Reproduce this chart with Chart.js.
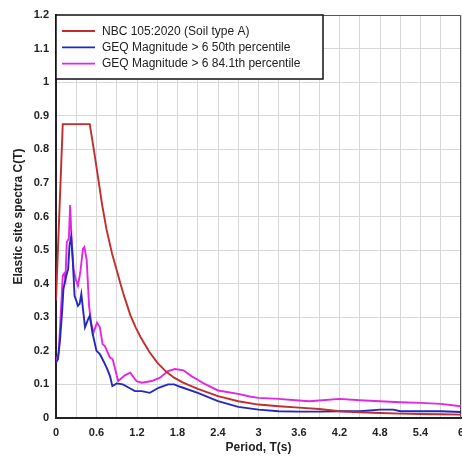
<!DOCTYPE html>
<html>
<head>
<meta charset="utf-8">
<script src="https://cdn.jsdelivr.net/npm/chart.js@4/dist/chart.umd.min.js"></script>
<style>
  body { margin: 0; background: #fff; }
</style>
</head>
<body>
<canvas id="chart" width="462" height="457"></canvas>
<script>
// NBC 105:2020 design spectrum (soil type A)
var nbcPeriod = [0, 0.1, 0.5, 0.56, 0.62, 0.683, 0.75, 0.83, 0.9, 0.955, 1.006, 1.104, 1.18, 1.25, 1.379, 1.5,
    1.626, 1.75, 1.875, 2.1, 2.4, 2.7, 3.0, 3.3, 3.6, 3.9, 4.2, 4.5, 4.8, 5.1, 5.4, 5.7, 6];
var nbcValue = [0.35, 0.875, 0.875, 0.8, 0.72, 0.635, 0.56, 0.49, 0.44, 0.4, 0.365, 0.305, 0.27, 0.242, 0.198, 0.165,
    0.139, 0.12, 0.106, 0.087, 0.065, 0.05, 0.04, 0.035, 0.031, 0.027, 0.02, 0.017, 0.015, 0.013, 0.012, 0.011, 0.01];

// GEQ magnitude > 6, 50th percentile
var p50Period = [0, 0.03, 0.06, 0.09, 0.11, 0.14, 0.18, 0.2, 0.225, 0.25, 0.275, 0.3, 0.325, 0.35, 0.375, 0.4,
    0.43, 0.475, 0.5, 0.54, 0.6, 0.65, 0.69, 0.75, 0.8, 0.835, 0.9, 0.99, 1.08, 1.17, 1.27, 1.39, 1.52, 1.66,
    1.75, 1.84, 2.1, 2.4, 2.7, 3.0, 3.3, 3.6, 3.9, 4.2, 4.5, 4.8, 5.0, 5.1, 5.4, 5.7, 6];
var p50Value = [0.165, 0.175, 0.234, 0.314, 0.384, 0.414, 0.444, 0.514, 0.539, 0.464, 0.364, 0.35, 0.334, 0.34,
    0.369, 0.324, 0.27, 0.294, 0.304, 0.254, 0.2, 0.19, 0.175, 0.15, 0.125, 0.095, 0.103, 0.1, 0.09, 0.08, 0.08,
    0.075, 0.09, 0.1, 0.1, 0.093, 0.075, 0.05, 0.033, 0.025, 0.02, 0.019, 0.019, 0.02, 0.02, 0.025, 0.025, 0.02,
    0.02, 0.02, 0.018];

// GEQ magnitude > 6, 84.1th percentile
var p84Period = [0, 0.04, 0.077, 0.1, 0.12, 0.14, 0.16, 0.19, 0.21, 0.23, 0.26, 0.29, 0.325, 0.36, 0.4, 0.42,
    0.455, 0.49, 0.52, 0.555, 0.607, 0.65, 0.69, 0.724, 0.8, 0.84, 0.92, 1.02, 1.1, 1.19, 1.27, 1.42, 1.54, 1.66,
    1.76, 1.89, 2.01, 2.1, 2.18, 2.4, 2.7, 2.87, 3.0, 3.3, 3.6, 3.75, 3.9, 4.2, 4.5, 4.8, 5.1, 5.4, 5.7, 6];
var p84Value = [0.165, 0.195, 0.334, 0.424, 0.43, 0.414, 0.524, 0.534, 0.634, 0.534, 0.444, 0.414, 0.394, 0.434,
    0.504, 0.509, 0.47, 0.334, 0.284, 0.254, 0.284, 0.27, 0.22, 0.214, 0.18, 0.175, 0.11, 0.127, 0.135, 0.11,
    0.105, 0.11, 0.12, 0.14, 0.146, 0.142, 0.124, 0.114, 0.104, 0.082, 0.072, 0.064, 0.06, 0.057, 0.052, 0.05,
    0.052, 0.057, 0.053, 0.05, 0.047, 0.045, 0.042, 0.035];

var seriesLabels = ['NBC 105:2020 (Soil type A)', 'GEQ Magnitude > 6 50th percentile', 'GEQ Magnitude > 6 84.1th percentile'];
var seriesColors = ['rgb(195, 45, 45)', 'rgb(35, 40, 190)', 'rgb(225, 40, 225)'];

var FONT = '"Liberation Sans", Arial, sans-serif';

function toPoints(xs, ys) {
    var pts = [];
    for (var k = 0; k < xs.length; k++) pts.push({x: xs[k], y: ys[k]});
    return pts;
}

var seriesData = [toPoints(nbcPeriod, nbcValue), toPoints(p50Period, p50Value), toPoints(p84Period, p84Value)];
var datasets = [];
for (var k = 0; k < seriesData.length; k++) {
    datasets.push({
        label: seriesLabels[k],
        data: seriesData[k],
        borderColor: seriesColors[k],
        backgroundColor: seriesColors[k],
        borderWidth: 1.9,
        pointRadius: 0,
        tension: 0,
        fill: false
    });
}

// legend box drawn inside the plot, top-left
var boxLegend = {
    id: 'boxLegend',
    afterDraw: function(chart) {
        var ctx = chart.ctx, a = chart.chartArea;
        var x = a.left, y = a.top, w = 267, h = 64;
        ctx.save();
        ctx.fillStyle = '#fff';
        ctx.fillRect(x, y, w, h);
        ctx.strokeStyle = '#111';
        ctx.lineWidth = 1.5;
        ctx.strokeRect(x, y, w, h);
        ctx.font = '12px ' + FONT;
        ctx.textBaseline = 'middle';
        chart.data.datasets.forEach(function(ds, n) {
            var cy = y + 16 + n * 16.3;
            ctx.strokeStyle = ds.borderColor;
            ctx.lineWidth = 1.8;
            ctx.beginPath();
            ctx.moveTo(x + 6, cy);
            ctx.lineTo(x + 39, cy);
            ctx.stroke();
            ctx.fillStyle = '#222';
            ctx.fillText(ds.label, x + 46, cy + 0.5);
        });
        ctx.restore();
    }
};

// dark frame on the top and right edges of the plot
var frame = {
    id: 'frame',
    beforeDatasetsDraw: function(chart) {
        var ctx = chart.ctx, a = chart.chartArea;
        ctx.save();
        ctx.strokeStyle = '#555';
        ctx.lineWidth = 1;
        ctx.beginPath();
        ctx.moveTo(a.left, a.top + 0.5);
        ctx.lineTo(a.right - 0.5, a.top + 0.5);
        ctx.lineTo(a.right - 0.5, a.bottom);
        ctx.stroke();
        ctx.restore();
    }
};

new Chart(document.getElementById('chart'), {
    type: 'line',
    data: { datasets: datasets },
    plugins: [frame, boxLegend],
    options: {
        responsive: false,
        animation: false,
        layout: { padding: { top: 15, right: 1, left: 0, bottom: 0 } },
        plugins: {
            legend: { display: false },
            tooltip: { enabled: false }
        },
        scales: {
            x: {
                type: 'linear',
                min: 0,
                max: 6,
                grid: { color: '#d8d8d8', drawTicks: false },
                border: { color: '#222', width: 2 },
                ticks: {
                    stepSize: 0.3,
                    autoSkip: false,
                    maxRotation: 0,
                    padding: 8,
                    color: '#222',
                    font: { family: FONT, size: 11, weight: 'bold' },
                    callback: function(v, idx) {
                        return idx % 2 === 0 ? String(Number(v.toFixed(1))) : '';
                    }
                },
                title: {
                    display: true,
                    text: 'Period, T(s)',
                    color: '#222',
                    font: { family: FONT, size: 12, weight: 'bold' },
                    padding: { top: 0, bottom: 2 }
                },
                afterFit: function(scale) {
                    scale.height = 39;
                    scale.paddingLeft = 0;
                    scale.paddingRight = 0;
                }
            },
            y: {
                min: 0,
                max: 1.2,
                grid: { color: '#d8d8d8', drawTicks: false },
                border: { color: '#222', width: 2 },
                ticks: {
                    stepSize: 0.1,
                    padding: 7,
                    color: '#222',
                    font: { family: FONT, size: 11, weight: 'bold' },
                    callback: function(v) { return String(Number(v.toFixed(1))); }
                },
                title: {
                    display: true,
                    text: 'Elastic site spectra C(T)',
                    color: '#222',
                    font: { family: FONT, size: 12, weight: 'bold' },
                    padding: { top: 11, bottom: 0 }
                },
                afterFit: function(scale) {
                    scale.width = 56;
                }
            }
        }
    }
});
</script>
</body>
</html>
